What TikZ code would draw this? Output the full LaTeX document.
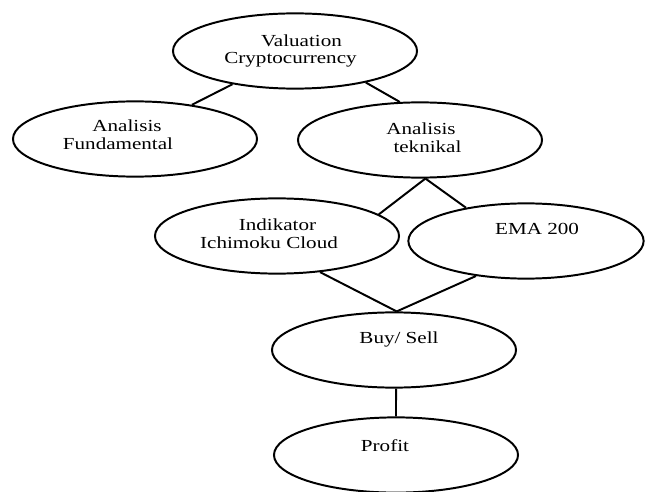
\documentclass[tikz,border=0pt]{standalone}
\usepackage{fontspec}
\setmainfont{Liberation Serif}[FakeStretch=1.25]
\usetikzlibrary{shapes.geometric}

\tikzset{
  oval/.style={ellipse, draw, line width=1.4pt, minimum width=6.1cm, minimum height=1.88cm, inner sep=0pt},
  ovaltext/.style={align=center, font=\fontsize{12}{12.5}\selectfont, inner sep=0pt},
  link/.style={line width=1.4pt}
}

\begin{document}
\begin{tikzpicture}[x=0.025cm, y=-0.025cm]
        \useasboundingbox (0,0) rectangle (645,492);

        % Valuation
        \node[oval] (valuation) at (295,51) {};
        \node[ovaltext] (valuationtext) at (290.5,51) {\hspace*{15.6pt}Valuation\\Cryptocurrency};

        % Fundamental
        \node[oval] (fundamental) at (135,139) {};
        \node[ovaltext] (fundamentaltext) at (118,135) {\hspace*{12.8pt}Analisis\\Fundamental};

        % Teknikal
        \node[oval] (teknikal) at (420,140) {};
        \node[ovaltext] (teknikaltext) at (421,138) {Analisis\\\hspace*{9.2pt}teknikal};

        % Ichimoku
        \node[oval] (ichimoku) at (277,236) {};
        \node[ovaltext] (ichimokutext) at (269,234) {\hspace*{12pt}Indikator\\Ichimoku Cloud};

        % EMA
        \node[oval, minimum width=5.88cm] (ema) at (526,241) {};
        \node[ovaltext] (ematext) at (537,229) {EMA 200};

        % Buy / Sell
        \node[oval] (buysell) at (394,350) {};
        \node[ovaltext] (buyselltext) at (399,339.5) {Buy/ Sell};

        % Profit
        \node[oval] (profit) at (396,455) {};
        \node[ovaltext] (profittext) at (385,446) {Profit};

        % Links
        \draw[link] (valuation.208) -- (fundamental.31);
        \draw[link] (valuation.336) -- (teknikal.118);
        \draw[link] (teknikal.278) -- (ichimoku.12);
        \draw[link] (teknikal.278) -- (ema.151);
        \draw[link] (ichimoku.320) -- (buysell.86);
        \draw[link] (ema.215) -- (buysell.86);
        \draw[link] (buysell.273) -- (profit.90);
    \end{tikzpicture}
\end{document}
